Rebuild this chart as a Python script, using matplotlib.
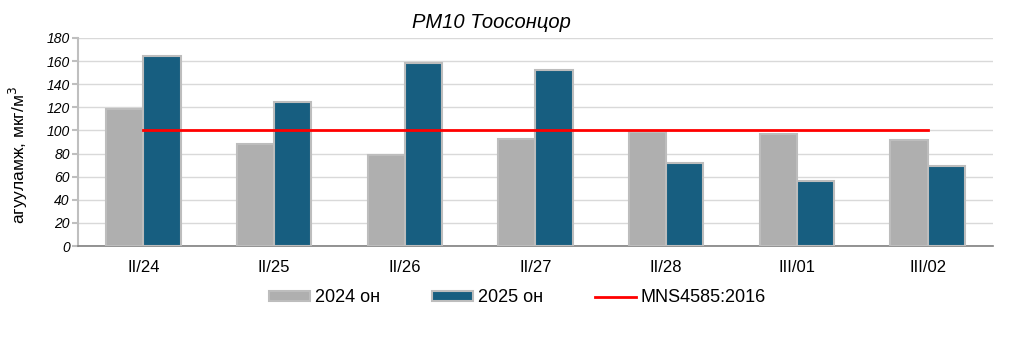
import matplotlib
matplotlib.use("Agg")
import matplotlib.pyplot as plt
import numpy as np

plt.rcParams['font.family'] = ['Liberation Sans', 'DejaVu Sans']

categories = ["II/24", "II/25", "II/26", "II/27", "II/28", "III/01", "III/02"]
v2024 = [119, 88, 79, 93, 99, 97, 92]
v2025 = [164, 125, 158, 152, 72, 56, 69]
standard = [100] * len(categories)

fig = plt.figure(figsize=(10.09, 3.39), dpi=100)
ax = fig.add_axes([0.0773, 0.274, 0.9068, 0.614])

x = np.arange(len(categories))
w = 0.285
b1 = ax.bar(x - w / 2, v2024, width=w, color='#AFAFAF', edgecolor='#BDBDBD', linewidth=1.5, label='2024 он', zorder=3)
b2 = ax.bar(x + w / 2, v2025, width=w, color='#175E80', edgecolor='#BDBDBD', linewidth=1.5, label='2025 он', zorder=3)
l1, = ax.plot(x, standard, color='#FF0000', linewidth=2, label='MNS4585:2016', zorder=4)

ax.set_xlim(-0.5, len(categories) - 0.5)
ax.set_ylim(0, 180)
ax.set_yticks(np.arange(0, 181, 20))
ax.set_xticks(x)
ax.set_xticklabels(categories, fontsize=12)
for lbl in ax.get_yticklabels():
    lbl.set_fontstyle('italic')
    lbl.set_fontsize(10)
ax.yaxis.grid(True, color='#D9D9D9', linewidth=1, zorder=0)
ax.set_axisbelow(True)
for s in ['top', 'right']:
    ax.spines[s].set_visible(False)
ax.spines['left'].set_color('#BFBFBF')
ax.spines['left'].set_linewidth(1.5)
ax.spines['bottom'].set_color('#808080')
ax.spines['bottom'].set_linewidth(1.2)
ax.tick_params(axis='y', length=4, color='#BFBFBF', width=1.5, pad=2)
ax.tick_params(axis='x', length=0, pad=10)

ax.set_ylabel('агууламж, мкг/м$^3$', fontsize=12.5)
ax.yaxis.set_label_coords(-0.052, 0.44)
fig.text(0.487, 0.935, 'PM10 Тоосонцор', fontsize=14.5, fontstyle='italic', ha='center', va='center')

leg = fig.legend(handles=[b1, b2, l1], labels=['2024 он', '2025 он', 'MNS4585:2016'],
                 loc='center', bbox_to_anchor=(0.513, 0.121), ncol=3, frameon=False,
                 fontsize=13, handlelength=2.27, handleheight=0.45, columnspacing=2.9,
                 handletextpad=0.25)

fig.savefig('out.png', dpi=100)
